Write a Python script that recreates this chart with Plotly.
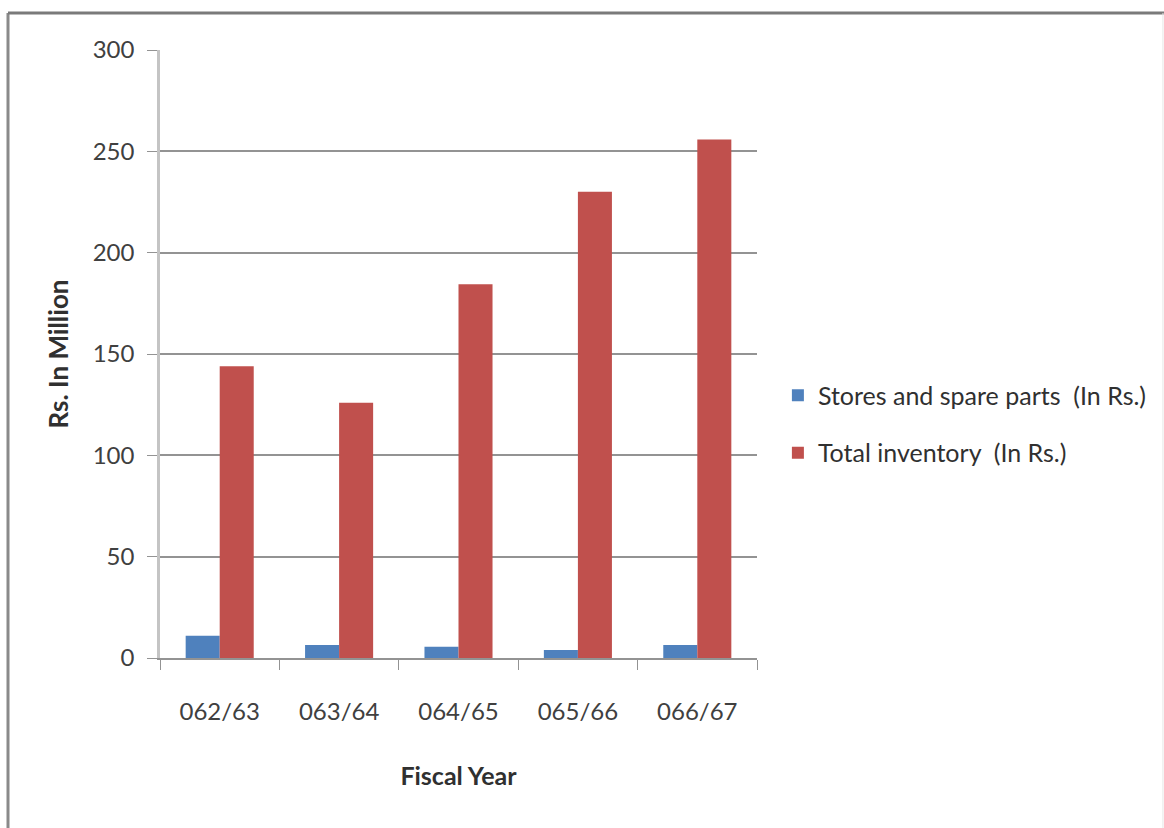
import plotly.graph_objects as go

years = ["062/63", "063/64", "064/65", "065/66", "066/67"]
stores = [11, 6.4, 5.6, 3.9, 6.4]
total = [144, 126, 184.4, 230, 255.8]

FONT = "Lato"

fig = go.Figure()
fig.add_trace(go.Bar(x=years, y=stores, name="Stores and spare parts  (In Rs.)", legendgroup="a",
                     marker=dict(color="#4F81BD", line=dict(width=0))))
fig.add_trace(go.Bar(x=years, y=total, name="Total inventory  (In Rs.)", legendgroup="b",
                     marker=dict(color="#C0504D", line=dict(width=0))))

fig.update_layout(
    width=1164, height=828,
    margin=dict(l=160, r=407, t=50, b=170),
    paper_bgcolor="white", plot_bgcolor="white",
    barmode="group", bargap=0.43, bargroupgap=0,
    font=dict(family=FONT, size=24, color="#404040"),
    legend=dict(x=1.035, y=0.385, xanchor="left", yanchor="middle",
                font=dict(family=FONT, size=25, color="#303030"),
                traceorder="grouped", tracegroupgap=22, itemwidth=30),
    showlegend=True,
)
fig.update_yaxes(range=[0, 300], dtick=50, showgrid=True, gridcolor="#939393", gridwidth=1.8,
                 showline=True, linecolor="#c4c4c4", linewidth=2.5,
                 ticks="outside", ticklen=10, tickcolor="#939393", ticklabelstandoff=8,
                 zeroline=False,
                 title=dict(text="<b>Rs. In Million</b>", font=dict(family=FONT, size=26, color="#303030"),
                            standoff=17),
                 tickfont=dict(family=FONT, size=24, color="#404040"))
fig.update_xaxes(showline=True, linecolor="#939393", linewidth=1.8,
                 ticks="outside", tickson="boundaries", ticklen=10, tickcolor="#939393",
                 ticklabelstandoff=31,
                 title=dict(text="<b>Fiscal Year</b>", font=dict(family=FONT, size=25, color="#303030"),
                            standoff=44),
                 tickfont=dict(family=FONT, size=24, color="#404040"))

# outer frame (left and top edges)
fig.add_shape(type="line", xref="paper", yref="paper", x0=-0.2546, x1=-0.2546, y0=1.0609, y1=-0.35,
              line=dict(color="#8a8a8a", width=3))
fig.add_shape(type="line", xref="paper", yref="paper", x0=-0.2546, x1=1.685, y0=1.0609, y1=1.0609,
              line=dict(color="#7a7a7a", width=3))
fig.add_shape(type="line", xref="paper", yref="paper", x0=1.68, x1=1.68, y0=1.0609, y1=-0.35,
              line=dict(color="#e6e6e6", width=1))

fig.write_html("out.html")
